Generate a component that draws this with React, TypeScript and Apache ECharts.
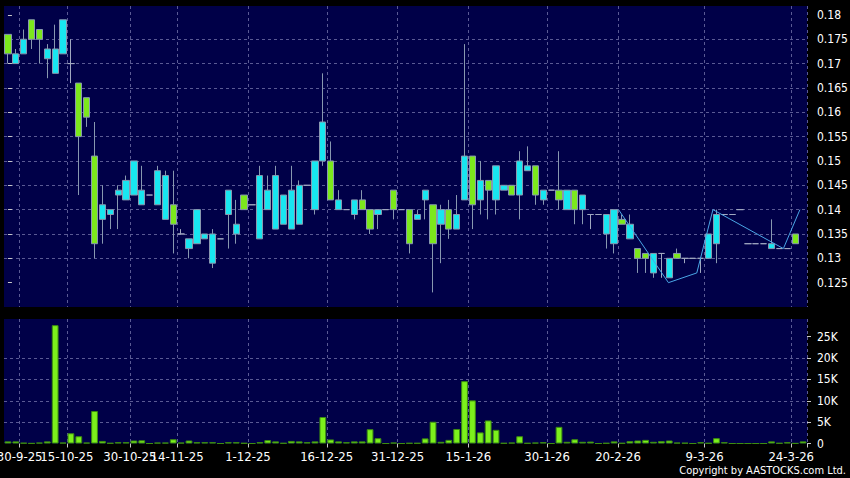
import React, { useEffect, useRef } from 'react';
import * as echarts from 'echarts';

const slotCount = 102;
const tickIndex = [2, 8, 16, 22, 31, 41, 50, 59, 69, 78, 89, 100];
const tickLabels = ['30-9-25', '15-10-25', '30-10-25', '14-11-25', '1-12-25', '16-12-25', '31-12-25', '15-1-26', '30-1-26', '20-2-26', '9-3-26', '24-3-26'];

const opens = [
  0.176, 0.170, 0.172, 0.179, 0.177, 0.171, 0.168, 0.172, 0.170, 0.166,
  0.163, 0.151, 0.138, 0.139, 0.143, 0.142, 0.143, 0.141, 0.143, 0.141,
  0.138, 0.141, 0.135, 0.132, 0.133, 0.134, 0.129, 0.134, 0.139, 0.135,
  0.143, 0.141, 0.134, 0.140, 0.136, 0.137, 0.136, 0.137, 0.145, 0.140,
  0.150, 0.150, 0.140, 0.140, 0.139, 0.142, 0.140, 0.139, 0.140, 0.144,
  0.140, 0.140, 0.138, 0.142, 0.141, 0.137, 0.140, 0.136, 0.142, 0.151,
  0.142, 0.146, 0.142, 0.144, 0.145, 0.143, 0.148, 0.149, 0.142, 0.144,
  0.144, 0.140, 0.144, 0.140, 0.139, 0.139, 0.135, 0.133, 0.138, 0.134,
  0.132, 0.131, 0.127, 0.131, 0.126, 0.131, 0.130, 0.130, 0.130, 0.130,
  0.133, 0.139, 0.139, 0.140, 0.133, 0.133, 0.133, 0.132, 0.132, 0.132,
  0.135, null
];
const closes = [
  0.172, 0.172, 0.175, 0.175, 0.175, 0.173, 0.173, 0.179, 0.170, 0.155,
  0.159, 0.133, 0.141, 0.140, 0.144, 0.146, 0.150, 0.144, 0.143, 0.148,
  0.147, 0.137, 0.135, 0.134, 0.140, 0.135, 0.135, 0.134, 0.144, 0.137,
  0.140, 0.141, 0.147, 0.144, 0.147, 0.143, 0.144, 0.145, 0.145, 0.150,
  0.158, 0.142, 0.142, 0.140, 0.142, 0.140, 0.136, 0.140, 0.140, 0.140,
  0.140, 0.133, 0.139, 0.144, 0.133, 0.140, 0.136, 0.139, 0.151, 0.141,
  0.146, 0.144, 0.149, 0.145, 0.143, 0.150, 0.149, 0.143, 0.144, 0.144,
  0.142, 0.144, 0.140, 0.143, 0.139, 0.139, 0.139, 0.140, 0.137, 0.137,
  0.130, 0.130, 0.131, 0.131, 0.130, 0.130, 0.130, 0.130, 0.130, 0.135,
  0.139, 0.139, 0.139, 0.140, 0.133, 0.133, 0.133, 0.133, 0.132, 0.132,
  0.133, null
];
const lows = [
  0.170, 0.170, 0.172, 0.173, 0.170, 0.167, 0.168, 0.172, 0.166, 0.143,
  0.157, 0.130, 0.133, 0.136, 0.136, 0.142, 0.143, 0.141, 0.143, 0.141,
  0.138, 0.131, 0.135, 0.130, 0.133, 0.134, 0.128, 0.134, 0.132, 0.133,
  0.140, 0.141, 0.134, 0.140, 0.136, 0.137, 0.136, 0.137, 0.145, 0.139,
  0.149, 0.142, 0.140, 0.140, 0.138, 0.140, 0.135, 0.136, 0.140, 0.138,
  0.140, 0.131, 0.138, 0.138, 0.123, 0.129, 0.134, 0.136, 0.142, 0.136,
  0.139, 0.138, 0.139, 0.144, 0.143, 0.138, 0.148, 0.141, 0.141, 0.144,
  0.140, 0.140, 0.137, 0.137, 0.136, 0.139, 0.132, 0.131, 0.137, 0.134,
  0.127, 0.127, 0.126, 0.126, 0.126, 0.130, 0.129, 0.130, 0.127, 0.130,
  0.129, 0.139, 0.139, 0.140, 0.133, 0.133, 0.133, 0.132, 0.132, 0.132,
  0.133, null
];
const highs = [
  0.176, 0.173, 0.177, 0.179, 0.177, 0.174, 0.178, 0.179, 0.175, 0.166,
  0.163, 0.158, 0.145, 0.140, 0.145, 0.147, 0.150, 0.149, 0.143, 0.149,
  0.148, 0.148, 0.136, 0.134, 0.140, 0.135, 0.136, 0.134, 0.144, 0.142,
  0.143, 0.141, 0.149, 0.147, 0.149, 0.143, 0.149, 0.146, 0.145, 0.150,
  0.168, 0.154, 0.144, 0.140, 0.142, 0.144, 0.140, 0.140, 0.140, 0.144,
  0.140, 0.140, 0.140, 0.144, 0.141, 0.141, 0.142, 0.143, 0.174, 0.151,
  0.150, 0.146, 0.149, 0.145, 0.145, 0.152, 0.153, 0.149, 0.144, 0.144,
  0.152, 0.144, 0.144, 0.143, 0.139, 0.139, 0.139, 0.140, 0.139, 0.139,
  0.132, 0.131, 0.131, 0.131, 0.130, 0.132, 0.130, 0.130, 0.130, 0.135,
  0.140, 0.139, 0.139, 0.140, 0.133, 0.133, 0.133, 0.138, 0.132, 0.132,
  0.135, null
];
const volumes = [
  500, 500, 150, 50, 200, 500, 27700, 200, 2400, 1700,
  200, 7600, 600, 100, 300, 300, 700, 750, 0, 200,
  200, 1000, 200, 700, 300, 300, 300, 0, 300, 300,
  100, 0, 300, 800, 500, 100, 600, 500, 300, 500,
  6200, 950, 500, 300, 500, 500, 3350, 1250, 0, 200,
  0, 100, 100, 1200, 5100, 400, 850, 3400, 14600, 10100,
  2600, 5400, 3200, 100, 200, 1700, 100, 200, 300, 0,
  3900, 400, 1000, 400, 450, 0, 100, 500, 100, 550,
  700, 850, 400, 550, 700, 200, 150, 0, 300, 100,
  1250, 300, 0, 0, 0, 0, 0, 500, 100, 300,
  50, 500
];
const trendX = [77.56, 83.9, 87.5, 89.55, 98.5, 100.6];
const trendY = [0.14, 0.125, 0.127, 0.14, 0.132, 0.14];
const priceTicks = [0.125, 0.13, 0.135, 0.14, 0.145, 0.15, 0.155, 0.16, 0.165, 0.17, 0.175, 0.18];
const volumeTicks = [0, 5000, 10000, 15000, 20000, 25000];

const FONT = "'DejaVu Sans Condensed', 'Liberation Sans Narrow', 'Liberation Sans', sans-serif";
const GRID_LINE = { color: '#5a5a94', width: 1, type: [3, 3] as number[] };

export default function App() {
  const ref = useRef<HTMLDivElement>(null);
  useEffect(() => {
    if (!ref.current) return;
    const chart = echarts.init(ref.current, undefined, { renderer: 'svg' });
    const categories = Array.from({ length: slotCount }, (_, i) => String(i));
    const isTick = (i: number) => tickIndex.indexOf(i) >= 0;
    const labelOf = (v: string) => {
      const k = tickIndex.indexOf(Number(v));
      return k >= 0 ? tickLabels[k] : '';
    };
    const candleData = categories.map((_, i) =>
      opens[i] == null ? '-' : [opens[i], closes[i], lows[i], highs[i]]
    );
    chart.setOption({
      animation: false,
      backgroundColor: '#000000',
      grid: [
        { left: 4, right: 43, top: 6, height: 301, show: true, backgroundColor: '#000048', borderWidth: 0, outerBoundsMode: 'none', containLabel: false },
        { left: 4, right: 43, top: 319, height: 124.5, show: true, backgroundColor: '#000048', borderWidth: 0, outerBoundsMode: 'none', containLabel: false },
      ],
      xAxis: [
        {
          type: 'category', gridIndex: 0, data: categories, boundaryGap: true,
          axisLine: { show: false }, axisTick: { show: false }, axisLabel: { show: false },
          splitLine: { show: true, interval: isTick, lineStyle: GRID_LINE },
        },
        {
          type: 'category', gridIndex: 1, data: categories, boundaryGap: true,
          axisLine: { show: false },
          axisTick: { show: true, interval: isTick, length: 4, lineStyle: { color: '#c8c8c8' } },
          axisLabel: {
            show: true, interval: 0, formatter: labelOf, color: '#ffffff',
            fontSize: 13, fontFamily: FONT, margin: 6, padding: [0, 8, 0, 0],
          },
          splitLine: { show: true, interval: isTick, lineStyle: GRID_LINE },
        },
        { type: 'value', gridIndex: 0, min: -0.5, max: slotCount - 0.5, show: false },
      ],
      yAxis: [
        {
          type: 'value', gridIndex: 0, position: 'right', min: 0.12, max: 0.18183, interval: 0.005,
          axisLine: { show: false },
          axisTick: { show: true, length: 4, customValues: priceTicks, lineStyle: { color: '#c8c8c8' } },
          axisLabel: {
            color: '#ffffff', fontSize: 12, fontFamily: FONT, margin: 10,
            customValues: priceTicks,
          },
          splitLine: { show: true, lineStyle: GRID_LINE, showMinLine: false, showMaxLine: false },
        },
        {
          type: 'value', gridIndex: 1, position: 'right', min: 0, max: 29140, interval: 5000,
          axisLine: { show: false },
          axisTick: { show: true, length: 4, customValues: volumeTicks, lineStyle: { color: '#c8c8c8' } },
          axisLabel: {
            color: '#ffffff', fontSize: 12, fontFamily: FONT, margin: 10,
            customValues: volumeTicks,
            formatter: (v: number) => (v === 0 ? '0' : v / 1000 + 'K'),
          },
          splitLine: { show: true, lineStyle: GRID_LINE, showMinLine: false, showMaxLine: false },
        },
      ],
      series: [
        {
          type: 'candlestick', xAxisIndex: 0, yAxisIndex: 0, data: candleData, barWidth: '86%',
          itemStyle: {
            color: '#18e6f0', color0: '#7ce81c',
            borderColor: '#8898b0', borderColor0: '#8898b0', borderColorDoji: '#a0a8c0', borderWidth: 1,
          },
        },
        {
          type: 'bar', xAxisIndex: 1, yAxisIndex: 1, data: volumes, barWidth: '86%',
          itemStyle: { color: '#7cf01c', borderColor: '#3c8c10', borderWidth: 1 },
        },
        {
          type: 'line', xAxisIndex: 2, yAxisIndex: 0, symbol: 'none',
          data: trendX.map((x, i) => [x, trendY[i]]),
          lineStyle: { color: '#4aa6e6', width: 1 },
        },
      ],
      graphic: [
        {
          type: 'text', right: 4, top: 465,
          style: { text: 'Copyright by AASTOCKS.com Ltd.', fill: '#ffffff', font: `11px ${FONT}` },
        },
      ],
    });
    return () => chart.dispose();
  }, []);
  return <div ref={ref} style={{ position: 'fixed', left: 0, top: 0, width: 850, height: 478 }} />;
}
